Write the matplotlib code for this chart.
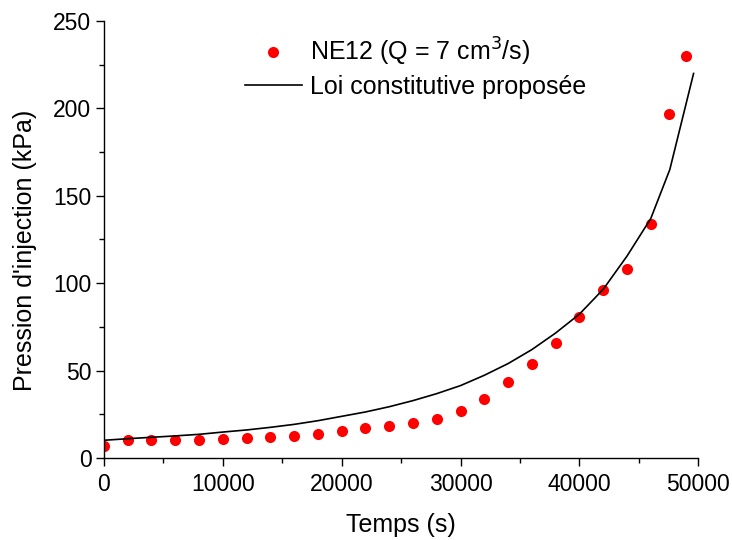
import matplotlib
matplotlib.use("Agg")
import matplotlib.pyplot as plt
from matplotlib.ticker import MultipleLocator

plt.rcParams['font.family'] = ['Liberation Sans', 'DejaVu Sans']

# essai NE12
temps = [0, 2000, 4000, 6000, 8000, 10000, 12000, 14000, 16000, 18000,
         20000, 22000, 24000, 26000, 28000, 30000, 32000, 34000, 36000,
         38000, 40000, 42000, 44000, 46000, 47500, 49000]
pression = [7.0, 10.3, 10.3, 10.1, 10.1, 10.7, 11.4, 12.2, 12.6, 13.7,
            15.6, 17.0, 18.1, 19.8, 22.5, 26.7, 33.5, 43.5, 53.9,
            65.9, 80.8, 96.0, 108.2, 133.8, 197.0, 230.0]

# loi constitutive
temps_loi = [0, 2000, 4000, 6000, 8000, 10000, 12000, 14000, 16000, 18000,
             20000, 22000, 24000, 26000, 28000, 30000, 32000, 34000, 36000,
             38000, 40000, 42000, 44000, 46000, 47600, 49600]
pression_loi = [10.1, 11.0, 11.8, 12.6, 13.5, 14.8, 16.0, 17.5, 19.2, 21.3,
                23.8, 26.3, 29.3, 32.8, 36.8, 41.4, 47.3, 54.0, 62.0,
                71.5, 82.3, 96.5, 115.5, 137.0, 165.0, 220.0]

fig = plt.figure(figsize=(7.32, 5.40), dpi=100)
ax = fig.add_axes([0.142, 0.152, 0.812, 0.809])

ax.plot(temps, pression, 'o', color='#ff0000', markersize=8, markeredgewidth=0,
        label="NE12 (Q = 7 cm$^3$/s)")
ax.plot(temps_loi, pression_loi, '-', color='black', linewidth=1.2,
        label="Loi constitutive proposée")

ax.set_xlim(0, 50000)
ax.set_ylim(0, 250)
ax.xaxis.set_major_locator(MultipleLocator(10000))
ax.xaxis.set_minor_locator(MultipleLocator(5000))
ax.yaxis.set_major_locator(MultipleLocator(50))
ax.yaxis.set_minor_locator(MultipleLocator(25))

for s in ['top', 'right']:
    ax.spines[s].set_visible(False)
for s in ['left', 'bottom']:
    ax.spines[s].set_linewidth(1.0)

ax.tick_params(which='major', direction='out', length=6, width=1.0, labelsize=16.5)
ax.tick_params(which='minor', direction='out', length=3.6, width=1.0)
ax.tick_params(axis='x', which='major', pad=5)
ax.tick_params(axis='y', which='major', pad=3)

ax.set_xlabel("Temps (s)", fontsize=18)
ax.set_ylabel("Pression d'injection (kPa)", fontsize=18)
ax.xaxis.set_label_coords(0.5, -0.126)
ax.yaxis.set_label_coords(-0.113, 0.474)

ax.legend(loc='upper left', bbox_to_anchor=(0.237, 0.966), frameon=False,
          fontsize=18, handlelength=2.28, handletextpad=0.32, labelspacing=0.27,
          borderaxespad=0, borderpad=0)

fig.savefig("out.png", dpi=100)
